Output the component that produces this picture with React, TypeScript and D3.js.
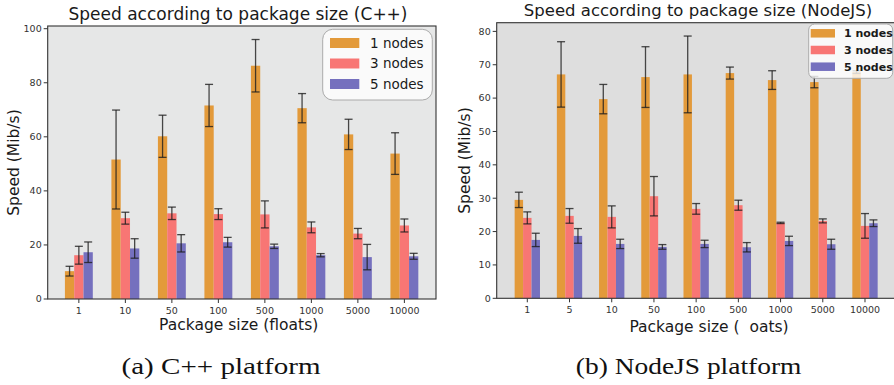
import React from 'react';
import * as d3 from 'd3';

// C++ platform
const cppSizes = ['1', '10', '50', '100', '500', '1000', '5000', '10000'];
const cppOne = [10.3, 51.6, 60.2, 71.6, 86.3, 70.6, 60.9, 53.8];
const cppOneErr = [1.8, 18.3, 7.8, 7.8, 9.7, 5.4, 5.6, 7.7];
const cppThree = [16.2, 29.9, 31.7, 31.4, 31.3, 26.5, 24.2, 27.2];
const cppThreeErr = [3.3, 2.2, 2.3, 2.0, 5.0, 2.0, 1.9, 2.4];
const cppFive = [17.3, 18.7, 20.6, 21.0, 19.5, 16.2, 15.5, 15.8];
const cppFiveErr = [3.8, 3.6, 3.2, 1.8, 0.8, 0.6, 4.7, 1.1];
const cppTicks = [0, 20, 40, 60, 80, 100];

// NodeJS platform
const nodeSizes = ['1', '5', '10', '50', '100', '500', '1000', '5000', '10000'];
const nodeOne = [29.5, 67.1, 59.7, 66.3, 67.1, 67.5, 65.4, 64.8, 67.8];
const nodeOneErr = [2.3, 9.8, 4.4, 9.1, 11.5, 1.8, 2.8, 1.7, 0.4];
const nodeThree = [24.1, 24.7, 24.4, 30.6, 26.8, 27.9, 22.6, 23.2, 21.7];
const nodeThreeErr = [1.8, 2.2, 3.3, 5.9, 1.6, 1.5, 0.2, 0.6, 3.7];
const nodeFive = [17.5, 18.7, 16.3, 15.4, 16.3, 15.3, 17.2, 16.2, 22.5];
const nodeFiveErr = [2.0, 2.2, 1.4, 0.7, 1.1, 1.4, 1.4, 1.5, 1.0];
const nodeTicks = [0, 10, 20, 30, 40, 50, 60, 70, 80];

const seriesNames = ['1 nodes', '3 nodes', '5 nodes'];
const colors = ['#e39a3a', '#f87674', '#7570be'];

const SANS = 'DejaVu Sans, sans-serif';

function Panel(props: any) {
  const {
    cats, series, errs, ticks, left, right, top, bottom, yMax, xMin, xMax,
    bg, title, titleX, titleY, titleSize, xLabel, xLabelX, xLabelY, yLabelX,
    legend, tickFont,
  } = props;

  const x = d3.scaleLinear().domain([xMin, xMax]).range([left, right]);
  const y = d3.scaleLinear().domain([0, yMax]).range([bottom, top]);
  const w = 0.2;
  const px = x(w) - x(0);

  return (
    <g>
      <text x={titleX} y={titleY} textAnchor="middle" fontFamily={SANS} fontSize={titleSize} fill="#1a1a1a">{title}</text>
      <rect x={left} y={top} width={right - left} height={bottom - top} fill={bg} />
      {series.map((vals: number[], s: number) => (
        <g key={'s' + s}>
          {vals.map((v, i) => (
            <rect key={i} x={x(i + (s - 1) * w) - px / 2} y={y(v)} width={px} height={bottom - y(v)} fill={colors[s]} />
          ))}
        </g>
      ))}
      {series.map((vals: number[], s: number) => (
        <g key={'e' + s} stroke="#1e1e1e" strokeOpacity={0.8} strokeWidth={1.3}>
          {vals.map((v, i) => {
            const cx = x(i + (s - 1) * w);
            const e = errs[s][i];
            return (
              <g key={i}>
                <line x1={cx} x2={cx} y1={y(v - e)} y2={y(v + e)} />
                <line x1={cx - 4} x2={cx + 4} y1={y(v - e)} y2={y(v - e)} />
                <line x1={cx - 4} x2={cx + 4} y1={y(v + e)} y2={y(v + e)} />
              </g>
            );
          })}
        </g>
      ))}
      <rect x={left} y={top} width={right - left} height={bottom - top} fill="none" stroke="#333" strokeWidth={1.1} />
      {ticks.map((t: number) => (
        <g key={t}>
          <line x1={left - 4} x2={left} y1={y(t)} y2={y(t)} stroke="#333" />
          <text x={left - 6} y={y(t)} dy="0.35em" textAnchor="end" fontFamily={SANS} fontSize={tickFont} fill="#333">{t}</text>
        </g>
      ))}
      {cats.map((c: string, i: number) => (
        <g key={c}>
          <line x1={x(i)} x2={x(i)} y1={bottom} y2={bottom + 4} stroke="#333" />
          <text x={x(i)} y={bottom + 15} textAnchor="middle" fontFamily={SANS} fontSize={tickFont} fill="#333">{c}</text>
        </g>
      ))}
      <text x={xLabelX} y={xLabelY} textAnchor="middle" fontFamily={SANS} fontSize={15.5} fill="#1a1a1a" style={{ whiteSpace: 'pre' }}>{xLabel}</text>
      <text transform={`translate(${yLabelX},${(top + bottom) / 2}) rotate(-90)`} textAnchor="middle" dy="0.35em" fontFamily={SANS} fontSize={15.5} fill="#1a1a1a">Speed (Mib/s)</text>
      <g>
        <rect x={legend.x} y={legend.y} width={legend.w} height={legend.h} rx={legend.r} fill="#fff" fillOpacity={0.8} stroke="#aaa" strokeWidth={1} />
        {seriesNames.map((n, s) => (
          <g key={n}>
            <rect x={legend.px} y={legend.rowY + s * legend.step - legend.ph / 2} width={legend.pw} height={legend.ph} fill={colors[s]} />
            <text x={legend.tx} y={legend.rowY + s * legend.step} dy="0.36em" fontFamily={SANS} fontSize={legend.fs} fontWeight={legend.bold ? 'bold' : 'normal'} fill="#1a1a1a">{n}</text>
          </g>
        ))}
      </g>
    </g>
  );
}

export default function App() {
  return (
    <svg width={894} height={385} style={{ position: 'absolute', left: 0, top: 0, background: '#fff' }}>
      <Panel
        cats={cppSizes}
        series={[cppOne, cppThree, cppFive]}
        errs={[cppOneErr, cppThreeErr, cppFiveErr]}
        ticks={cppTicks}
        left={47.7} right={436} top={26} bottom={299}
        yMax={101} xMin={-0.67} xMax={7.68}
        bg="#e6e7e7"
        title="Speed according to package size (C++)" titleX={238} titleY={19.5} titleSize={17}
        xLabel="Package size (floats)" xLabelX={238.7} xLabelY={330}
        yLabelX={14}
        tickFont={9.5}
        legend={{ x: 322.7, y: 29.3, w: 109.6, h: 70.7, r: 10, px: 330, pw: 29.3, ph: 10, rowY: 43, step: 20.5, tx: 370, fs: 13.5, bold: false }}
      />
      <Panel
        cats={nodeSizes}
        series={[nodeOne, nodeThree, nodeFive]}
        errs={[nodeOneErr, nodeThreeErr, nodeFiveErr]}
        ticks={nodeTicks}
        left={496.7} right={895.6} top={22.7} bottom={298.3}
        yMax={82.6} xMin={-0.725} xMax={8.725}
        bg="#dedede"
        title="Speed according to package size (NodeJS)" titleX={698} titleY={15.5} titleSize={16.5}
        xLabel="Package size (  oats)" xLabelX={709} xLabelY={331.5}
        yLabelX={464.3}
        tickFont={9.5}
        legend={{ x: 808.7, y: 24, w: 84, h: 54.3, r: 6, px: 810.7, pw: 24.3, ph: 8.5, rowY: 33.3, step: 16.7, tx: 844, fs: 11, bold: true }}
      />
      <text x={221} y={374} textAnchor="middle" fontFamily="Liberation Serif, serif" fontSize={23} textLength={199} lengthAdjust="spacingAndGlyphs" fill="#111">(a) C++ platform</text>
      <text x={688.6} y={374} textAnchor="middle" fontFamily="Liberation Serif, serif" fontSize={23} textLength={225.6} lengthAdjust="spacingAndGlyphs" fill="#111">(b) NodeJS platform</text>
    </svg>
  );
}
